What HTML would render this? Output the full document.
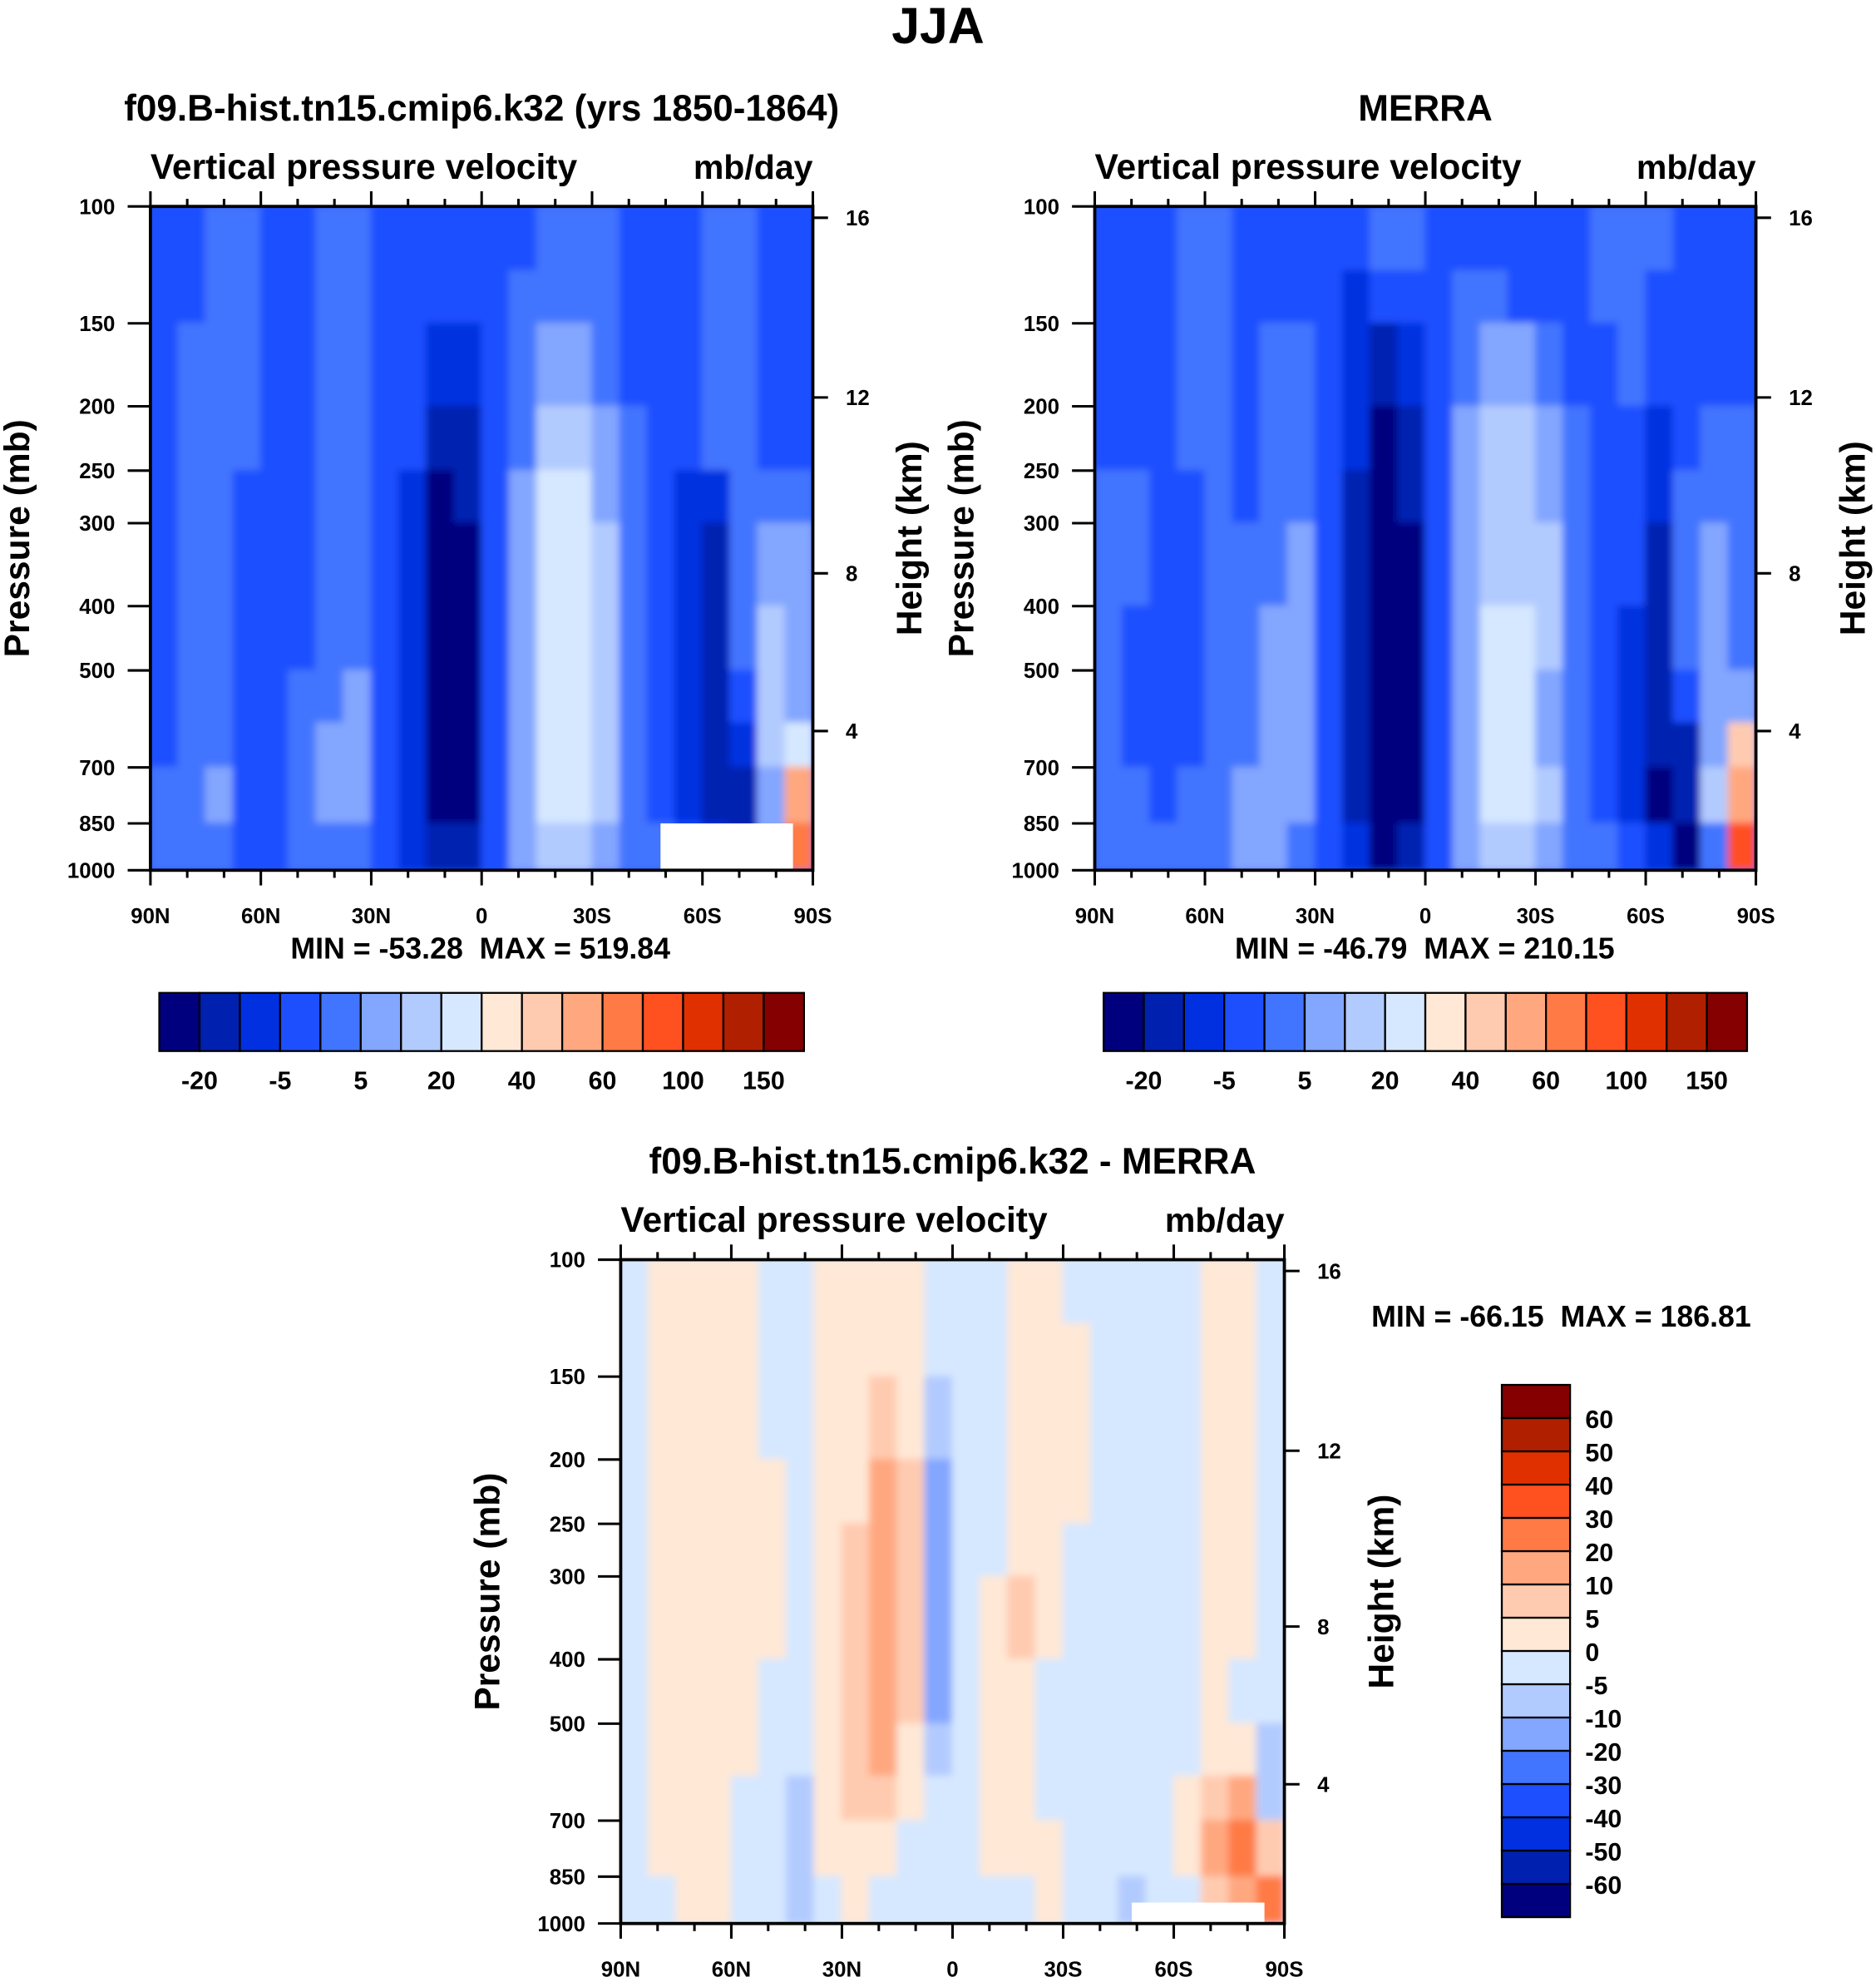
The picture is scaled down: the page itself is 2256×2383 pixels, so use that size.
<!DOCTYPE html>
<html><head><meta charset="utf-8"><style>
html,body{margin:0;padding:0;background:#fff}
svg{display:block}
text{font-family:"Liberation Sans",sans-serif;font-weight:bold;fill:#000;white-space:pre}
</style></head><body>
<svg id="fig" xmlns="http://www.w3.org/2000/svg" width="2256" height="2383" viewBox="0 0 1484 1567">
<defs><filter id="soft" x="0" y="0" width="1" height="1"><feGaussianBlur stdDeviation="3"/></filter></defs>
<text x="742" y="34" font-size="40" text-anchor="middle">JJA</text>
<g id="root"></g>
</svg>
<script>
const colors=["#00007f","#0020b0","#0030e0","#1e4fff","#4275ff","#83a6ff","#b2cbff","#d6e8ff","#ffe8d6","#ffcbb0","#ffa880","#ff7a45","#ff5020","#e03000","#b02000","#850000"];
const latLabels=["90N","60N","30N","0","30S","60S","90S"];
const pTicks=[100,150,200,250,300,400,500,700,850,1000];
const pEdges=[100,125,150,200,250,300,400,500,600,700,850,1000];
const hTicks=[16,12,8,4];
const hPress=[104,194,357,617];
const cbTopLabels=["-20","-5","5","20","40","60","100","150"];
const cbDiffLabels=["60","50","40","30","20","10","5","0","-5","-10","-20","-30","-40","-50","-60"];
const model=[
[3,3,4,4,3,3,4,4,3,3,3,3,3,3,4,4,4,3,3,3,4,4,3,3],
[3,3,4,4,3,3,4,4,3,3,3,3,3,4,4,4,4,3,3,3,4,4,3,3],
[3,4,4,4,3,3,4,4,3,3,2,2,3,4,5,5,4,3,3,3,4,4,3,3],
[3,4,4,4,3,3,4,4,3,3,1,1,3,4,6,6,5,4,3,3,4,4,3,3],
[3,4,4,3,3,3,4,4,3,2,0,1,3,5,7,7,5,4,3,2,2,4,4,4],
[3,4,4,3,3,3,4,4,3,2,0,0,3,5,7,7,6,4,3,2,1,4,5,5],
[3,4,4,3,3,3,4,4,3,2,0,0,3,5,7,7,6,4,3,2,1,4,6,5],
[3,4,4,3,3,4,4,5,3,2,0,0,3,5,7,7,6,4,3,2,1,3,6,5],
[3,4,4,3,3,4,5,5,3,2,0,0,3,5,7,7,6,4,3,2,1,2,6,7],
[4,4,5,3,3,4,5,5,3,2,0,0,3,5,7,7,6,4,3,2,1,1,5,10],
[4,4,4,3,3,4,4,4,3,2,1,1,3,5,6,6,5,4,4,3,2,1,5,11]];
const merra=[
[3,3,3,4,4,3,3,3,3,3,4,4,3,3,3,3,3,3,4,4,4,3,3,3],
[3,3,3,4,4,3,3,3,3,2,3,3,3,4,4,3,3,3,4,4,3,3,3,3],
[3,3,3,4,4,3,4,4,3,2,1,2,3,4,5,5,4,3,3,4,3,3,3,3],
[3,3,3,4,4,3,4,4,3,2,0,1,3,5,6,6,5,4,3,3,2,3,4,4],
[4,4,3,3,4,3,4,4,3,1,0,1,3,5,6,6,5,4,3,3,2,4,4,4],
[4,4,3,3,4,4,4,5,3,1,0,0,3,5,6,6,6,4,3,3,1,4,5,4],
[4,3,3,3,4,4,5,5,3,1,0,0,3,5,7,7,6,4,3,2,1,4,5,4],
[4,3,3,3,4,4,5,5,3,1,0,0,3,5,7,7,5,4,3,2,1,3,5,5],
[4,3,3,3,4,4,5,5,3,1,0,0,3,5,7,7,5,4,3,2,1,1,5,9],
[4,4,3,4,4,5,5,5,3,1,0,0,3,5,7,7,6,4,3,2,0,1,6,10],
[4,4,4,4,4,5,5,4,3,2,0,1,3,5,6,6,5,4,4,3,2,0,4,12]];
const diff=[
[7,8,8,8,8,7,7,8,8,8,8,7,7,7,8,8,7,7,7,7,7,8,8,7],
[7,8,8,8,8,7,7,8,8,8,8,7,7,7,8,8,8,7,7,7,7,8,8,7],
[7,8,8,8,8,7,7,8,8,9,8,6,7,7,8,8,8,7,7,7,7,8,8,7],
[7,8,8,8,8,8,7,8,8,10,9,5,7,7,8,8,8,7,7,7,7,8,8,7],
[7,8,8,8,8,8,7,8,9,10,9,5,7,7,8,8,7,7,7,7,7,8,8,7],
[7,8,8,8,8,8,7,8,9,10,9,5,7,8,9,8,7,7,7,7,7,8,8,7],
[7,8,8,8,8,7,7,8,9,10,9,5,7,8,8,7,7,7,7,7,7,8,7,7],
[7,8,8,8,8,7,7,8,9,10,8,6,7,8,8,7,7,7,7,7,7,8,8,6],
[7,8,8,8,7,7,6,8,9,9,8,7,7,8,8,7,7,7,7,7,8,9,10,6],
[7,8,8,8,7,7,6,8,8,8,7,7,7,8,8,8,7,7,7,7,8,10,11,9],
[7,7,8,8,7,7,6,7,8,7,7,7,7,7,7,8,7,7,6,7,7,9,10,11]];

const NS="http://www.w3.org/2000/svg";
const root=document.getElementById('root');
function mk(tag,attrs,parent,txt){const e=document.createElementNS(NS,tag);for(const k in attrs)e.setAttribute(k,attrs[k]);if(txt!==undefined)e.textContent=txt;(parent||root).appendChild(e);return e;}

function panel(id,x0,y0,W,H,data,title,minmax,mmx,mmy,mask){
  const g=mk('g',{});
  
  
  const yOf=p=>y0+(Math.log10(p)-2)*H;
  const xOf=f=>x0+f*W;
  const clip=mk('clipPath',{id:'c'+id},g);mk('rect',{x:x0,y:y0,width:W,height:H},clip);
  const fld=mk('g',{'clip-path':'url(#c'+id+')'},g);
  const inner=mk('g',{filter:'url(#soft)'},fld);
  const nc=data[0].length;
  mk('rect',{x:x0-10,y:y0-10,width:W+20,height:H+20,fill:colors[data[0][0]]},inner);
  data.forEach((row,r)=>{row.forEach((v,c)=>{
    const cell=mk('rect',{x:xOf(c/nc)-0.5,y:yOf(pEdges[r])-0.5,width:W/nc+1,height:yOf(pEdges[r+1])-yOf(pEdges[r])+1,fill:colors[v]},inner);
    
    
  });});
  if(mask){mk('rect',{x:xOf(mask[0]),y:yOf(mask[1]),width:xOf(mask[2])-xOf(mask[0]),height:y0+H-yOf(mask[1]),fill:'#fff'},fld);}
  mk('rect',{x:x0,y:y0,width:W,height:H,fill:'none',stroke:'#000','stroke-width':2.5},g);
  for(let i=0;i<=18;i++){const x=xOf(i/18);const major=i%3===0;
    mk('line',{x1:x,x2:x,y1:y0+H,y2:y0+H+(major?12:6),stroke:'#000','stroke-width':2},g);
    mk('line',{x1:x,x2:x,y1:y0,y2:y0-(major?12:6),stroke:'#000','stroke-width':2},g);}
  latLabels.forEach((l,i)=>{const t=mk('text',{x:xOf(i/6),y:y0+H+42,'font-size':17,'text-anchor':'middle'},g,l);
    });
  pTicks.forEach(p=>{const y=yOf(p);mk('line',{x1:x0-18,x2:x0,y1:y,y2:y,stroke:'#000','stroke-width':2},g);
    const t=mk('text',{x:x0-28,y:y+6,'font-size':17,'text-anchor':'end'},g,String(p));
    });
  hTicks.forEach((h,i)=>{const y=yOf(hPress[i]);mk('line',{x1:x0+W,x2:x0+W+12,y1:y,y2:y,stroke:'#000','stroke-width':2},g);
    const t=mk('text',{x:x0+W+26,y:y+6,'font-size':17},g,String(h));
    });
  const ta=mk('text',{x:x0,y:y0-22,'font-size':28},g,'Vertical pressure velocity');
  
  const tu=mk('text',{x:x0+W,y:y0-22,'font-size':27,'text-anchor':'end'},g,'mb/day');
  
  const tt=mk('text',{x:x0+W/2,y:y0-68,'font-size':29,'text-anchor':'middle'},g,title);
  
  const cy=y0+H/2;
  const py=mk('text',{x:0,y:0,'font-size':28,'text-anchor':'middle',transform:`translate(${x0-96},${cy}) rotate(-90)`},g,'Pressure (mb)');
  
  const hy=mk('text',{x:0,y:0,'font-size':28,'text-anchor':'middle',transform:`translate(${x0+W+86},${cy}) rotate(-90)`},g,'Height (km)');
  
  const m=mk('text',{x:mmx,y:mmy,'font-size':23.5,'text-anchor':'middle'},g,minmax);
  
}
function hbar(id,x0,y0,W,H){
  const g=mk('g',{});
  const bw=W/16;
  colors.forEach((c,i)=>{const r=mk('rect',{x:x0+i*bw,y:y0,width:bw,height:H,fill:c,stroke:'#000','stroke-width':1.5},g);
    });
  cbTopLabels.forEach((l,i)=>{const t=mk('text',{x:x0+(2*i+1)*bw,y:y0+H+30,'font-size':20,'text-anchor':'middle'},g,l);
    });
}
panel('model-panel',119,163,524,525,model,'f09.B-hist.tn15.cmip6.k32 (yrs 1850-1864)','MIN = -53.28  MAX = 519.84',380,758,[0.77,850,0.97]);
panel('merra-panel',866,163,523,525,merra,'MERRA','MIN = -46.79  MAX = 210.15',1127,758,null);
panel('diff-panel',491,996,525,525,diff,'f09.B-hist.tn15.cmip6.k32 - MERRA','MIN = -66.15  MAX = 186.81',1235,1049,[0.77,930,0.97]);
hbar('model-colorbar',126,785,510,46);
hbar('merra-colorbar',873,785,509,46);
(function(){const g=mk('g',{});
  const x0=1188,y0=1095,W=54,H=421,bh=H/16;
  colors.slice().reverse().forEach((c,i)=>{const r=mk('rect',{x:x0,y:y0+i*bh,width:W,height:bh,fill:c,stroke:'#000','stroke-width':1.5},g);
    });
  cbDiffLabels.forEach((l,i)=>{const t=mk('text',{x:x0+W+12,y:y0+(i+1)*bh+8,'font-size':20},g,l);
    });
})();
</script>
</body></html>
